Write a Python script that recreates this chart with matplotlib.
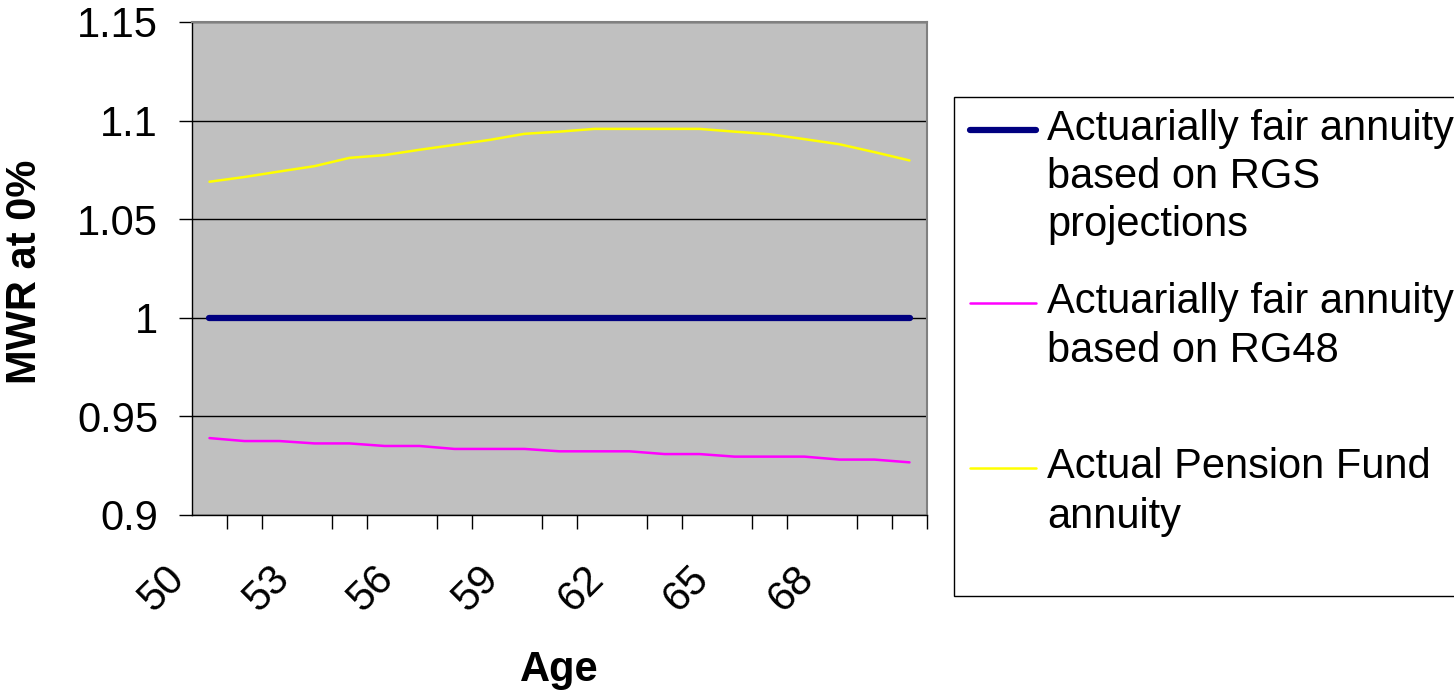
import matplotlib
matplotlib.use("Agg")
import matplotlib.pyplot as plt
from matplotlib.lines import Line2D
from matplotlib.patches import Rectangle

plt.rcParams["font.family"] = ["Liberation Sans", "DejaVu Sans"]

ages = list(range(50, 71))
tick_ages = [50, 53, 56, 59, 62, 65, 68]

rgs_projection = [1.0] * 21
rg48 = [0.939, 0.9375, 0.9375, 0.9363, 0.9363, 0.935, 0.935, 0.9335, 0.9335, 0.9335,
        0.9323, 0.9323, 0.9323, 0.9309, 0.9309, 0.9296, 0.9296, 0.9296, 0.9281, 0.9281,
        0.9267]
pension_fund = [1.069, 1.0714, 1.0742, 1.0769, 1.0811, 1.0825, 1.0852, 1.0877, 1.0902,
                1.0933, 1.0944, 1.0958, 1.0958, 1.0958, 1.0958, 1.0944, 1.0931, 1.0906,
                1.088, 1.084, 1.0798]

series_labels = [
    ["Actuarially fair annuity", "based on RGS", "projections"],
    ["Actuarially fair annuity", "based on RG48"],
    ["Actual Pension Fund", "annuity"],
]
series_colors = ["#000080", "#FF00FF", "#FFFF00"]
series_widths = [4.5, 1.8, 1.8]

W, H = 1454, 698
FS = 30
fig = plt.figure(figsize=(W / 100, H / 100), dpi=100)
ax = fig.add_axes([192 / W, 1 - 515 / H, (927 - 192) / W, (515 - 22) / H])
ax.set_facecolor("#C0C0C0")

x = list(range(len(ages)))
for vals, c, lw in zip([rgs_projection, rg48, pension_fund], series_colors, series_widths):
    ax.plot(x, vals, color=c, lw=lw, solid_capstyle="round", zorder=3)

ax.set_xlim(-0.5, len(ages) - 0.5)
ax.set_ylim(0.9, 1.15)
ax.set_yticks([0.9, 0.95, 1.0, 1.05, 1.1, 1.15])
ax.set_yticklabels(["0.9", "0.95", "1", "1.05", "1.1", "1.15"], fontsize=FS)
ax.yaxis.grid(True, color="black", lw=1)
ax.set_axisbelow(True)

# category boundaries as minor ticks, labels on every third age
ax.set_xticks([i - 0.5 for i in range(len(ages) + 1)], minor=True)
ax.set_xticks([ages.index(a) - 0.5 for a in tick_ages])
ax.set_xticklabels([str(a) for a in tick_ages], fontsize=FS, rotation=45,
                   ha="right", va="top")
ax.tick_params(axis="x", which="major", length=0, pad=31)
ax.tick_params(axis="x", which="minor", length=10, width=1, direction="out")
ax.tick_params(axis="y", length=9.4, width=1, direction="out", pad=15)

for s in ["top", "right"]:
    ax.spines[s].set_color("#808080")
    ax.spines[s].set_linewidth(1.5)
for s in ["left", "bottom"]:
    ax.spines[s].set_color("black")
    ax.spines[s].set_linewidth(1)

fig.text(25 / W, 1 - 272 / H, "MWR at 0%", rotation=90, fontsize=FS,
         fontweight="bold", ha="center", va="center")
fig.text(559 / W, 1 - 670 / H, "Age", fontsize=FS, fontweight="bold",
         ha="center", va="center")

# legend box drawn like the spreadsheet one
fig.patches.append(Rectangle((954 / W, 1 - 596 / H), 520 / W, (596 - 97) / H,
                             transform=fig.transFigure, facecolor="white",
                             edgecolor="black", lw=1))
baselines = [[140, 188, 236], [313, 362], [478, 528]]
for lines, c, lw, bl in zip(series_labels, series_colors, series_widths, baselines):
    hy = bl[0] - 10
    fig.lines.append(Line2D([970 / W, 1036 / W], [1 - hy / H] * 2,
                            transform=fig.transFigure, color=c, lw=lw,
                            solid_capstyle="round"))
    for txt, b in zip(lines, bl):
        fig.text(1047 / W, 1 - b / H, txt, fontsize=FS, ha="left", va="baseline")

fig.savefig("out.png", dpi=100)
